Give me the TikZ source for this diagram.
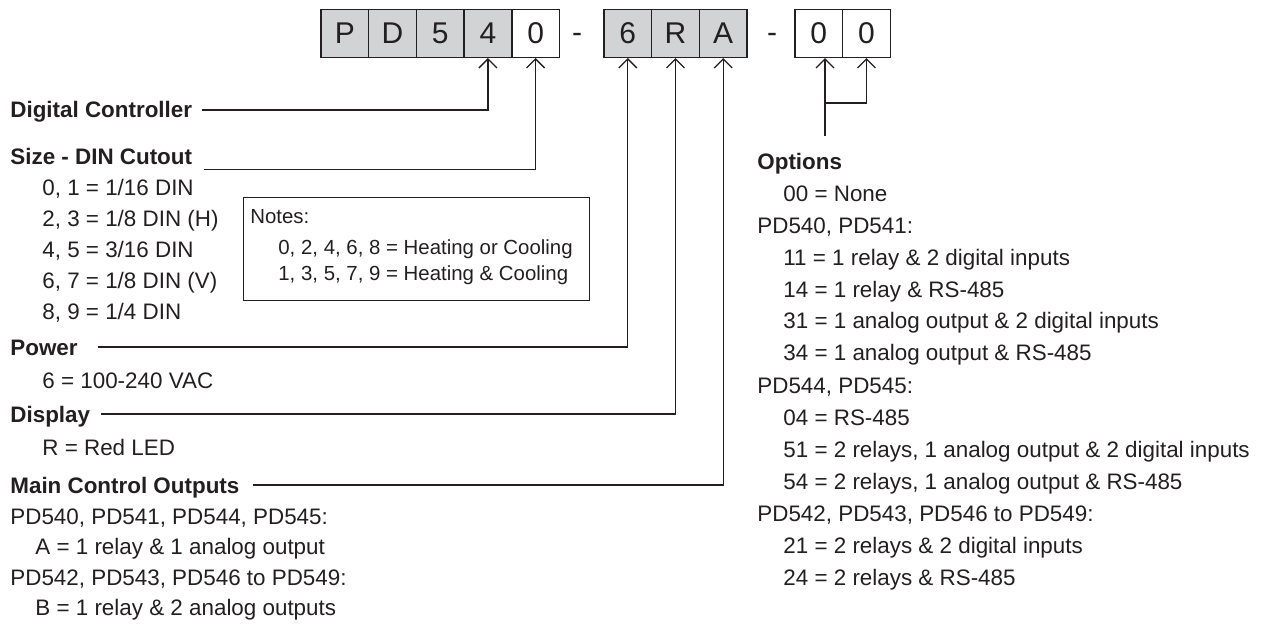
\documentclass[tikz,border=0pt]{standalone}
\usepackage{fontspec}
\setmainfont{Liberation Sans}
\usetikzlibrary{arrows.meta}
\definecolor{ink}{HTML}{231F20}
\definecolor{boxgray}{HTML}{D1D3D4}
\begin{document}
\begin{tikzpicture}[x=0.5pt,y=-0.5pt,
  cell/.style={draw=ink, line width=0.75pt, minimum width=23.8pt, minimum height=23.8pt,
    inner sep=0pt, text=ink, font=\fontsize{15}{18}\selectfont},
  gcell/.style={cell, fill=boxgray},
  wcell/.style={cell, fill=white},
  dashlbl/.style={anchor=base, inner sep=0pt, text=ink, font=\fontsize{15}{18}\selectfont},
  lbl/.style={anchor=west, inner sep=0pt, text=ink, text height=10pt, text depth=2pt,
    font=\fontsize{11.2}{13}\selectfont},
  hd/.style={lbl, font=\fontsize{11.2}{13}\selectfont\bfseries},
  note/.style={anchor=west, inner sep=0pt, text=ink, text height=9.2pt, text depth=2pt,
    font=\fontsize{10.2}{12}\selectfont},
  conn/.style={draw=ink, line width=0.65pt, -{Straight Barb[length=4.5pt,width=9pt]}},
  plain/.style={draw=ink, line width=0.65pt}]
\useasboundingbox (0,0) rectangle (1267,626);

% code boxes
\node[gcell] (b1) at (344.8,33.5) {P};
\node[gcell] (b2) at (392.5,33.5) {D};
\node[gcell] (b3) at (440.2,33.5) {5};
\node[gcell] (b4) at (487.9,33.5) {4};
\node[wcell] (b5) at (535.6,33.5) {0};
\node[dashlbl] (d1) at (577,42.5) {-};
\node[gcell] (b6) at (627.8,33.5) {6};
\node[gcell] (b7) at (675.5,33.5) {R};
\node[gcell] (b8) at (723.2,33.5) {A};
\node[dashlbl] (d2) at (772,42.5) {-};
\node[wcell] (b9) at (818.8,33.5) {0};
\node[wcell] (b10) at (866.5,33.5) {0};

% left column
\node[hd] (dc) at (10,110) {Digital Controller};
\node[hd] (sz) at (10,156) {Size - DIN Cutout};
\node[lbl] (s1) at (42,187) {0, 1 = 1/16 DIN};
\node[lbl] (s2) at (42,218) {2, 3 = 1/8 DIN (H)};
\node[lbl] (s3) at (42,249) {4, 5 = 3/16 DIN};
\node[lbl] (s4) at (42,280) {6, 7 = 1/8 DIN (V)};
\node[lbl] (s5) at (42,311) {8, 9 = 1/4 DIN};

\node[draw=ink, line width=0.65pt, minimum width=173pt, minimum height=51.5pt, inner sep=0pt,
  anchor=north west] (notes) at (243,197) {};
\node[note] (n0) at (250,216) {Notes:};
\node[note] (n1) at (278,247) {0, 2, 4, 6, 8 = Heating or Cooling};
\node[note] (n2) at (278,273) {1, 3, 5, 7, 9 = Heating \& Cooling};

\node[hd] (pw) at (10,347) {Power};
\node[lbl] (pw1) at (42,380) {6 = 100-240 VAC};
\node[hd] (dp) at (10,414) {Display};
\node[lbl] (dp1) at (42,447) {R = Red LED};
\node[hd] (mc) at (10,485) {Main Control Outputs};
\node[lbl] (mc1) at (10,516) {PD540, PD541, PD544, PD545:};
\node[lbl] (mc2) at (35,546) {A = 1 relay \& 1 analog output};
\node[lbl] (mc3) at (10,577) {PD542, PD543, PD546 to PD549:};
\node[lbl] (mc4) at (35,607) {B = 1 relay \& 2 analog outputs};

% right column
\node[hd] (op) at (757,161) {Options};
\node[lbl] (o1) at (783,193) {00 = None};
\node[lbl] (o2) at (757,225) {PD540, PD541:};
\node[lbl] (o3) at (783,257) {11 = 1 relay \& 2 digital inputs};
\node[lbl] (o4) at (783,289) {14 = 1 relay \& RS-485};
\node[lbl] (o5) at (783,320) {31 = 1 analog output \& 2 digital inputs};
\node[lbl] (o6) at (783,352) {34 = 1 analog output \& RS-485};
\node[lbl] (o7) at (757,385) {PD544, PD545:};
\node[lbl] (o8) at (783,417) {04 = RS-485};
\node[lbl] (o9) at (783,449) {51 = 2 relays, 1 analog output \& 2 digital inputs};
\node[lbl] (o10) at (783,481) {54 = 2 relays, 1 analog output \& RS-485};
\node[lbl] (o11) at (757,513) {PD542, PD543, PD546 to PD549:};
\node[lbl] (o12) at (783,545) {21 = 2 relays \& 2 digital inputs};
\node[lbl] (o13) at (783,577) {24 = 2 relays \& RS-485};

% connectors
\draw[conn] ([xshift=5pt]dc.east) -| (b4.south);
\draw[conn] ([xshift=6pt,yshift=-0.5pt]sz.south east) -| (b5.south);
\draw[conn] ([xshift=10pt]pw.east) -| (b6.south);
\draw[conn] ([xshift=5.5pt]dp.east) -| (b7.south);
\draw[conn] ([xshift=6.5pt]mc.east) -| (b8.south);
\coordinate (oend) at (825,136);
\coordinate (ojoin) at (825,103);
\draw[conn] (oend) -- (oend |- b9.south);
\draw[conn] (ojoin) -| (b10.south);
\end{tikzpicture}
\end{document}
